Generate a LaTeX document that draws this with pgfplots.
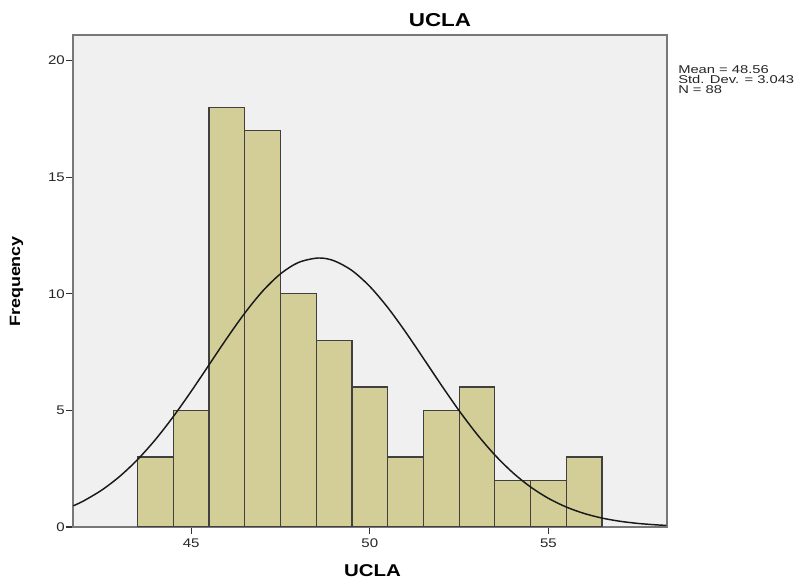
\documentclass[border=0pt]{standalone}
\usepackage{fontspec}
\setmainfont{Liberation Sans}[FakeStretch=1.2]
\newfontfamily\statfont{Liberation Sans}[FakeStretch=1.3]
\usepackage{pgfplots}
\pgfplotsset{compat=1.18}
\definecolor{barfill}{RGB}{211,206,151}
\definecolor{plotbg}{RGB}{240,240,240}
\definecolor{framec}{RGB}{120,120,120}
\begin{document}
\begin{tikzpicture}[x=1pt,y=1pt]
\path[use as bounding box] (0,0) rectangle (600,436.5);
\begin{axis}[at={(54.75pt,41.25pt)}, anchor=south west, scale only axis,
  width=445.5pt, height=369pt,
  xmin=41.69, xmax=58.32, ymin=0, ymax=21.1,
  axis background/.style={fill=plotbg},
  axis line style={framec, line width=1.3pt},
  xtick={45,50,55}, ytick={0,5,10,15,20},
  tick align=outside, major tick length=5pt,
  tick style={black!80, line width=0.8pt},
  xtick pos=lower, ytick pos=left,
  ticklabel style={font=\fontsize{9.4}{11}\selectfont, color=black!85},
  yticklabel style={inner sep=1pt},
  /pgf/number format/assume math mode=true,
]
\addplot[ybar interval, fill=barfill, draw=black!75, line width=0.9pt] coordinates {
(43.5,3) (44.5,5) (45.5,18) (46.5,17) (47.5,10) (48.5,8) (49.5,6) (50.5,3) (51.5,5) (52.5,6) (53.5,2) (54.5,2) (55.5,3) (56.5,3)};
\addplot[black!90, line width=1.1pt, smooth, mark=none] coordinates {
(41.7,0.909) (42,1.1296) (42.5,1.588) (43,2.174) (43.5,2.895) (44,3.754) (44.5,4.738) (45,5.820) (45.5,6.959) (46,8.099) (46.5,9.175) (47,10.116) (47.5,10.858) (48,11.343) (48.56,11.537) (49,11.417) (49.5,10.999) (50,10.315) (50.5,9.415) (51,8.365) (51.5,7.234) (52,6.090) (52.5,4.989) (53,3.979) (53.5,3.089) (54,2.334) (54.5,1.7165) (55,1.2289) (55.5,0.8562) (56,0.5806) (56.5,0.3834) (57,0.2465) (57.5,0.1542) (58,0.0939) (58.3,0.0688)};
\end{axis}
\node[anchor=base, inner sep=0pt, font=\bfseries\fontsize{14}{16}\selectfont] at (330,416.25) {UCLA};
\node[anchor=base, inner sep=0pt, font=\bfseries\fontsize{12.8}{15}\selectfont] at (279.4,3.75) {UCLA};
\node[anchor=base, rotate=90, inner sep=0pt, font=\bfseries\fontsize{11.2}{13}\selectfont] at (15,225.4) {Frequency};
\node[anchor=base west, inner sep=0pt, align=left, font=\statfont\fontsize{8.5}{7.3}\selectfont, color=black!85] at (508.5,366.5) {Mean = 48.56\\Std. Dev. = 3.043\\N = 88};
\end{tikzpicture}
\end{document}
